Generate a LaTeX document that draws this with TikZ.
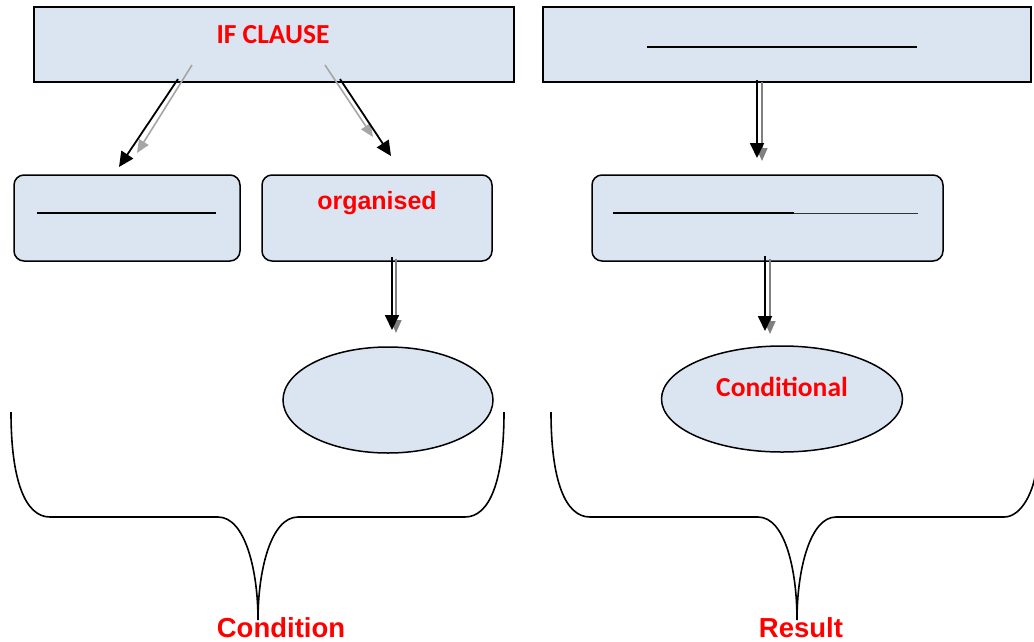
\documentclass[tikz,border=0pt]{standalone}
\usepackage{fontspec}
\setmainfont{Carlito}
\newfontfamily\arialf{Liberation Sans}
\usetikzlibrary{arrows.meta,shapes.geometric}
\definecolor{boxfill}{HTML}{DBE5F1}
\definecolor{redtxt}{HTML}{FF0000}
\tikzset{
  sqbox/.style={draw=black,line width=1.5pt,fill=boxfill,rectangle,inner sep=0pt},
  rbox/.style={draw=black,line width=1.5pt,fill=boxfill,rectangle,rounded corners=10pt,inner sep=0pt},
  oval/.style={draw=black,line width=1.5pt,fill=boxfill,ellipse,inner sep=0pt},
  lbl/.style={text=redtxt,font=\fontsize{27.5}{30}\selectfont\bfseries},
  albl/.style={text=redtxt,font=\arialf\fontsize{25}{30}\selectfont\bfseries},
  biglbl/.style={text=redtxt,font=\arialf\fontsize{27.5}{30}\selectfont\bfseries},
  blank/.style={line width=2pt},
  blk/.style={line width=1.8pt,-{Triangle[length=15pt,width=14pt]}},
  gry/.style={line width=1.6pt,draw=black!35,-{Triangle[length=13pt,width=11pt,fill=black!35]}},
  gry2/.style={line width=1.6pt,draw=black!50,-{Triangle[length=13pt,width=11pt,fill=black!50]}},
  brace/.style={line width=1.6pt}
}
\begin{document}
\begin{tikzpicture}[x=1pt,y=-1pt]
\useasboundingbox (0,0) rectangle (1034,641);
% boxes
\node[sqbox,minimum width=480pt,minimum height=75pt] (ifc) at (274,44.5) {};
\node[lbl] (ift) at (273,35) {IF CLAUSE};
\node[sqbox,minimum width=488pt,minimum height=75pt] (res) at (787,44.5) {};
\coordinate (r1a) at (647,47); \coordinate (r1b) at (917,47);
\draw[blank] (r1a) -- (r1b);

\node[rbox,minimum width=226pt,minimum height=86pt] (bl) at (127,218) {};
\coordinate (l1a) at (37,213); \coordinate (l1b) at (216,213);
\draw[blank] (l1a) -- (l1b);
\node[rbox,minimum width=230pt,minimum height=86pt] (bm) at (377,218) {};
\node[albl] (org) at (377,203) {organised};
\node[rbox,minimum width=351pt,minimum height=86pt] (br) at (767.5,218) {};
\coordinate (m1a) at (613,213); \coordinate (m1b) at (794,213); \coordinate (m1c) at (918,213);
\draw[blank] (m1a) -- (m1b);
\draw[line width=1pt,black!80] (m1b) -- (m1c);

\node[oval,minimum width=210pt,minimum height=106pt] (el) at (388,400) {};
\node[oval,minimum width=241pt,minimum height=106pt] (er) at (782,399) {};
\node[lbl] (cond) at (782,387) {Conditional};

% arrows
\coordinate (a1g) at (192,65); \coordinate (a1ge) at (137,153);
\coordinate (a1k) at (178,79); \coordinate (a1ke) at (119,167);
\draw[gry] (a1g) -- (a1ge);
\draw[blk] (a1k) -- (a1ke);
\coordinate (a2g) at (325,65); \coordinate (a2ge) at (373,137);
\coordinate (a2k) at (340,79); \coordinate (a2ke) at (391,156);
\draw[gry] (a2g) -- (a2ge);
\draw[blk] (a2k) -- (a2ke);
\coordinate (a3g) at (762,82); \coordinate (a3ge) at (762,161);
\coordinate (a3k) at (757,80); \coordinate (a3ke) at (757,158);
\draw[gry2] (a3g) -- (a3ge);
\draw[blk] (a3k) -- (a3ke);
\coordinate (a4g) at (396,259); \coordinate (a4ge) at (396,333);
\coordinate (a4k) at (392,257); \coordinate (a4ke) at (392,330);
\draw[gry2] (a4g) -- (a4ge);
\draw[blk] (a4k) -- (a4ke);
\coordinate (a5g) at (770,259); \coordinate (a5ge) at (770,334);
\coordinate (a5k) at (765,256); \coordinate (a5ke) at (765,331);
\draw[gry2] (a5g) -- (a5ge);
\draw[blk] (a5k) -- (a5ke);

% braces
\draw[brace] (11,412) .. controls (11,480) and (25,517) .. (50,517) -- (218,517)
  .. controls (245,517) and (258,570) .. (258,620)
  .. controls (258,570) and (271,517) .. (298,517) -- (465,517)
  .. controls (490,517) and (504,480) .. (504,412);
\draw[brace] (551,412) .. controls (551,480) and (565,517) .. (590,517) -- (758,517)
  .. controls (785,517) and (797,570) .. (797,620)
  .. controls (797,570) and (810,517) .. (836,517) -- (1004,517)
  .. controls (1022,517) and (1034,490) .. (1036,470);
\node[biglbl] (condn) at (281,628) {Condition};
\node[biglbl] (resl) at (801,628) {Result};
\end{tikzpicture}
\end{document}
